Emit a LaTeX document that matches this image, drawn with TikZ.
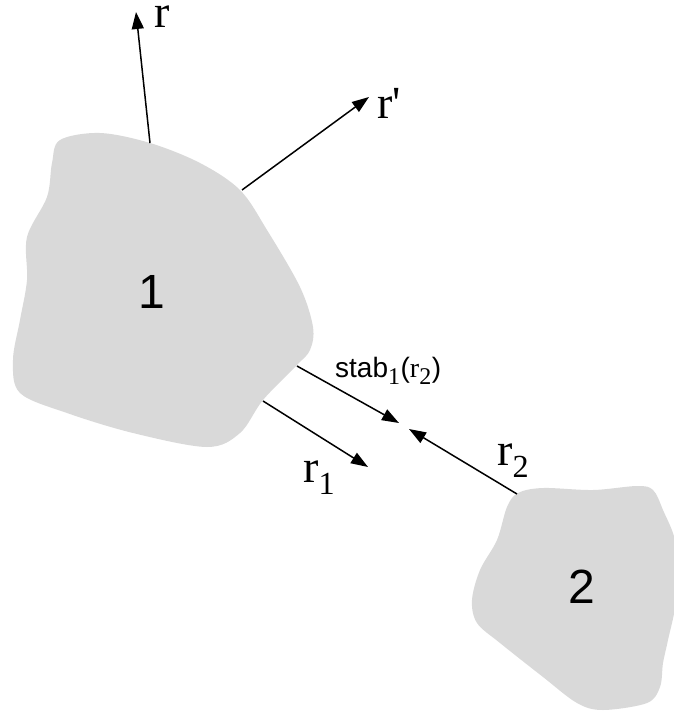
\documentclass[tikz,border=0pt]{standalone}
\usepackage{fontspec}
\setmainfont{Liberation Serif}
\newfontfamily\arialf{Liberation Sans}
\usetikzlibrary{arrows.meta}
\definecolor{blobgray}{HTML}{D9D9D9}
\tikzset{
  blob/.style={fill=blobgray, draw=none},
  vec/.style={line width=1.5pt, -{Triangle[length=17pt,width=12pt]}},
  biglbl/.style={inner sep=0pt, font=\fontsize{46}{46}\selectfont},
  numlbl/.style={inner sep=0pt, font=\arialf\fontsize{48}{48}\selectfont},
  smalllbl/.style={inner sep=0pt, font=\arialf\fontsize{28}{28}\selectfont},
}
\begin{document}
\begin{tikzpicture}[x=1pt,y=-1pt]
\useasboundingbox (0,0) rectangle (673,717);
% blob 1
\fill[blob] plot[smooth cycle, tension=0.55] coordinates {
 (100,133) (150,143) (200,163) (240,190) (267,230) (300,287) (313,327)
 (310,350) (297,365) (263,400) (240,433) (207,447) (133,433) (67,413)
 (20,393) (13,360) (20,320) (27,280) (27,237) (47,197) (52,163) (60,140)};
% blob 2
\fill[blob] plot[smooth cycle, tension=0.55] coordinates {
 (518,493) (543,488) (593,490) (637,486) (653,490) (663,510) (676,545)
 (676,600) (668,640) (663,663) (660,687) (647,703) (603,710) (577,703)
 (543,677) (500,643) (477,623) (472,600) (480,570) (497,540) (507,507)};
\node[numlbl] (one) at (152,292) {1};
\node[numlbl] (two) at (582,587) {2};
% arrow endpoints
\coordinate (rs) at (150,143);
\coordinate (rt) at (136,12);
\coordinate (rps) at (242,190);
\coordinate (rpt) at (369,97);
\coordinate (ss) at (297,366);
\coordinate (st) at (399,423);
\coordinate (r1s) at (263,401);
\coordinate (r1t) at (368,467);
\coordinate (r2s) at (517,494);
\coordinate (r2t) at (409,429);
\draw[vec] (rs) -- (rt);
\draw[vec] (rps) -- (rpt);
\draw[vec] (ss) -- (st);
\draw[vec] (r1s) -- (r1t);
\draw[vec] (r2s) -- (r2t);
% labels
\node[biglbl, anchor=base west, text height=22pt, text depth=0pt] (lr) at (154,28) {r};
\node[biglbl, anchor=base west] (lrp) at (377,118) {r\textquotesingle};
\node[biglbl, anchor=base west] (lr1) at (303,482) {r\textsubscript{1}};
\node[biglbl, anchor=base west] (lr2) at (497,465) {r\textsubscript{2}};
\node[smalllbl, anchor=base west] (ls) at (335,377) {stab\textsubscript{\rmfamily\fontsize{24}{24}\selectfont 1}(\rmfamily r\textsubscript{\fontsize{24}{24}\selectfont 2}\arialf)};
\end{tikzpicture}
\end{document}
